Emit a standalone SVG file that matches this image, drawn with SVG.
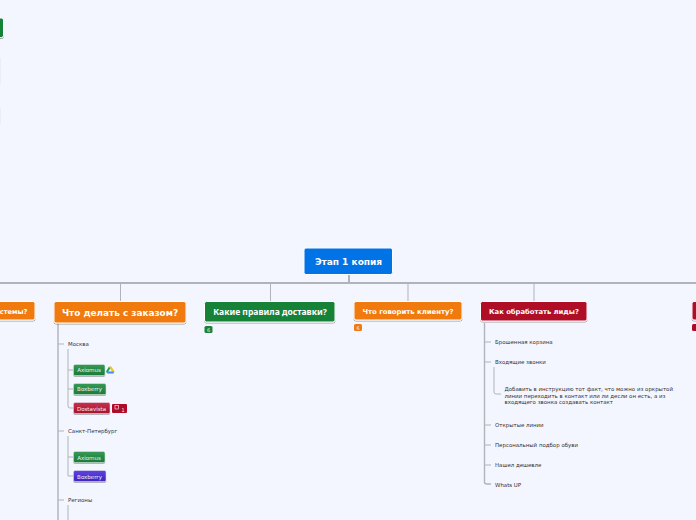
<svg xmlns="http://www.w3.org/2000/svg" width="696" height="520" viewBox="0 0 696 520">
<defs>
<filter id="sh" x="-10%" y="-20%" width="120%" height="150%"><feDropShadow dx="0" dy="1" stdDeviation="0.7" flood-color="#000" flood-opacity="0.35"/></filter>
<linearGradient id="gg" x1="0" y1="0" x2="0" y2="1"><stop offset="0" stop-color="#359a55"/><stop offset="1" stop-color="#1c7a38"/></linearGradient>
<linearGradient id="gr" x1="0" y1="0" x2="0" y2="1"><stop offset="0" stop-color="#c8324e"/><stop offset="1" stop-color="#a80f2c"/></linearGradient>
<linearGradient id="gb" x1="0" y1="0" x2="0" y2="1"><stop offset="0" stop-color="#5f45da"/><stop offset="1" stop-color="#3f22c4"/></linearGradient>
</defs>
<style>
text{font-family:"DejaVu Sans",sans-serif}
.b{stroke:#fff;stroke-width:1;filter:url(#sh)}
.m{stroke:#e8ecf6;stroke-width:.5;filter:url(#sh)}
.t{fill:#fff;font-weight:700;text-anchor:middle}
.l{font-size:5.45px;fill:#333}
.s{font-size:5.5px;fill:#f0f0f0;text-anchor:middle}
.c{fill:none;stroke:#b0b3b9}
.o{fill:#f07a0c}.g{fill:#198238}.r{fill:#b00a28}
.n{font-size:5px;fill:#e8f0e8;text-anchor:middle}
</style>
<rect width="696" height="520" fill="#f3f6ff"/>
<g id="connectors">
<path class="c" stroke-width="1.800" d="M0 283H696"/>
<path class="c" stroke-width="2" d="M349 275V283"/>
<path class="c" stroke-width="1" d="M120.500 283V301M270.500 283V301M408 283V301M534 283V301"/>
<path class="c" stroke-width="1.400" d="M58 323V520"/>
<path class="c" stroke-width="1" d="M58 344H64M58 431H64M58 500H64"/>
<path class="c" stroke-width="1" d="M68 349V406Q68 408 70 408H73M68 370H73M68 389H73"/>
<path class="c" stroke-width="1" d="M68 436V476H73M68 457H73"/>
<path class="c" stroke-width="1" d="M68 505V520"/>
<path class="c" stroke-width="1.400" d="M484.500 323V482Q484.500 484 487 484H491"/>
<path class="c" stroke-width="1" d="M484.500 342H491M484.500 362H491M484.500 425H491M484.500 445H491M484.500 465H491"/>
<path class="c" stroke-width="1" d="M494 367V392Q494 394 496 394H501"/>
<path class="c" stroke-width="0.800" style="stroke:#e2e4ec" d="M0 58V85M0 108V124"/>
</g>
<g id="node-root"><rect x="304" y="248" width="88.500" height="26.500" rx="2" fill="#0073e6" stroke="#fff"/><text class="t" x="348.500" y="265" font-size="9">Этап 1 копия</text></g>
<g id="node-top-left"><rect x="-8" y="18" width="11.500" height="19.500" rx="2" class="b g"/></g>
<g id="node-systems"><rect x="-40" y="301.500" width="75" height="18.500" rx="2" class="b o"/><text class="t" x="27.500" y="313.500" font-size="6.700" style="text-anchor:end">стемы?</text></g>
<g id="node-order"><rect x="54" y="301.500" width="132" height="21.500" rx="2" class="b o"/><text class="t" x="120" y="315.500" font-size="8.900">Что делать с заказом?</text></g>
<g id="node-rules"><rect x="204.500" y="301.500" width="130.500" height="20.500" rx="2" class="b g"/><text class="t" x="270" y="315" font-size="8.550" style="font-family:'Noto Sans',sans-serif">Какие правила доставки?</text></g>
<g id="badge-rules"><rect x="204.500" y="326" width="8" height="7" rx="1.500" class="g"/><text class="n" x="208.500" y="331.500">6</text></g>
<g id="node-say"><rect x="354" y="301.500" width="108" height="18.500" rx="2" class="b o"/><text class="t" x="408" y="314" font-size="6.900">Что говорить клиенту?</text></g>
<g id="badge-say"><rect x="354" y="324" width="8" height="7" rx="1.500" class="o"/><text class="n" x="358" y="329.500">6</text></g>
<g id="node-leads"><rect x="480.500" y="301.500" width="106.500" height="19.500" rx="2" class="b r"/><text class="t" x="534" y="314" font-size="6.800">Как обработать лиды?</text></g>
<g id="node-right"><rect x="692" y="301.500" width="10" height="18.500" rx="2" class="b r"/></g>
<g id="badge-right"><rect x="692" y="324" width="8" height="7" rx="1.500" class="r"/></g>
<g id="n-moscow"><text class="l" x="68" y="346">Москва</text></g>
<g id="n-ax1"><rect x="73.500" y="364.500" width="31.500" height="11" rx="1.500" fill="url(#gg)" class="m"/><text class="s" x="89" y="372">Axiomus</text>
<path d="M109 366.500h2.400l3 5h-2.400z" fill="#f4c20d"/><path d="M109 366.500l-3 5 1.200 2 3-5z" fill="#1fa463"/><path d="M107.200 373.500h6.100l1.200-2h-6.100z" fill="#4285f4"/></g>
<g id="n-box1"><rect x="73.500" y="383.500" width="32.500" height="11" rx="1.500" fill="url(#gg)" class="m"/><text class="s" x="89.500" y="391">Boxberry</text></g>
<g id="n-dost"><rect x="73.500" y="402.500" width="36.500" height="11" rx="1.500" fill="url(#gr)" class="m"/><text class="s" x="91.500" y="410.500">Dostavista</text></g>
<g id="badge-dost"><rect x="112" y="404" width="15" height="9" rx="1" class="r"/><rect x="115" y="405.500" width="3.500" height="3.500" fill="none" stroke="#fff" stroke-width=".6"/><text class="n" x="123" y="411.500">1</text></g>
<g id="n-spb"><text class="l" x="68" y="433">Санкт-Петербург</text></g>
<g id="n-ax2"><rect x="73.500" y="451.500" width="31.500" height="11" rx="1.500" fill="url(#gg)" class="m"/><text class="s" x="89" y="459.500">Axiomus</text></g>
<g id="n-box2"><rect x="73.500" y="470.500" width="32.500" height="11" rx="1.500" fill="url(#gb)" class="m"/><text class="s" x="89.500" y="478.500">Boxberry</text></g>
<g id="n-regions"><text class="l" x="68" y="502">Регионы</text></g>
<g id="l1"><text class="l" x="495" y="344">Брошенная корзина</text></g>
<g id="l2"><text class="l" x="495" y="364">Входящие звонки</text></g>
<g id="l3"><text class="l" x="504.500" y="391">Добавить в инструкцию тот факт, что можно из оркрытой</text><text class="l" x="504.500" y="397.500">линии переходить в контакт или ли десли он есть, а из</text><text class="l" x="504.500" y="404">входящего звонка создавать контакт</text></g>
<g id="l4"><text class="l" x="495" y="427">Открытые линии</text></g>
<g id="l5"><text class="l" x="495" y="447">Персональный подбор обуви</text></g>
<g id="l6"><text class="l" x="495" y="467">Нашел дешевле</text></g>
<g id="l7"><text class="l" x="495" y="487">Whats UP</text></g>
</svg>
